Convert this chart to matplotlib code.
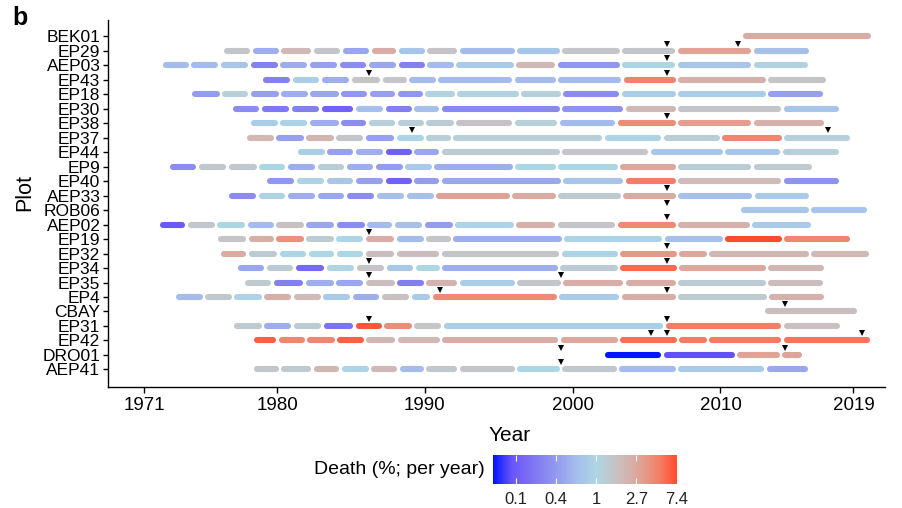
import numpy as np
import matplotlib
matplotlib.use("Agg")
import matplotlib.pyplot as plt
from matplotlib.colors import LinearSegmentedColormap, Normalize
from matplotlib.cm import ScalarMappable

plt.rcParams['font.family'] = ['Liberation Sans', 'DejaVu Sans']

# plots, top to bottom
plot_names = ["BEK01", "EP29", "AEP03", "EP43", "EP18", "EP30", "EP38", "EP37",
              "EP44", "EP9", "EP40", "AEP33", "ROB06", "AEP02", "EP19", "EP32",
              "EP34", "EP35", "EP4", "CBAY", "EP31", "EP42", "DRO01", "AEP41"]

# census years, death rate (% per year) between censuses, and event years (triangles)
census_BEK01 = [2011.4, 2020.3]
death_BEK01 = [2.6]
events_BEK01 = []

census_EP29 = [1976.31, 1978.27, 1980.20, 1982.37, 1984.36, 1986.32, 1988.15, 1990.08, 1992.28,
               1996.17, 1999.21, 2003.27, 2007.03, 2012.14, 2016.09]
death_EP29 = [1.5, 0.5, 2.0, 1.5, 0.45, 2.5, 0.7, 1.6, 0.6, 0.75, 1.5, 1.5, 2.9, 0.65]
events_EP29 = [2006.4, 2011.2]

census_AEP03 = [1972.18, 1974.11, 1976.11, 1978.14, 1980.13, 1982.10, 1984.13, 1986.09, 1988.12,
                1990.08, 1992.04, 1996.10, 1998.88, 2003.27, 2007.03, 2012.14, 2016.03]
death_AEP03 = [0.6, 0.6, 0.7, 0.25, 0.5, 0.4, 0.3, 0.45, 0.25, 0.6, 0.8, 2.0, 0.35, 1.0, 0.7, 1.1]
events_AEP03 = [2006.4]

census_EP43 = [1978.95, 1980.95, 1982.94, 1984.97, 1987.04, 1988.86, 1990.82, 1995.97, 1998.94,
               2003.37, 2007.06, 2013.15, 2017.24]
death_EP43 = [0.25, 0.85, 0.5, 1.6, 1.5, 0.6, 0.6, 0.6, 0.6, 4.5, 2.3, 1.6]
events_EP43 = [1986.2, 2006.4]

census_EP18 = [1974.15, 1976.21, 1978.14, 1980.20, 1982.16, 1984.26, 1986.16, 1988.08, 1989.94,
               1992.11, 1996.44, 1999.28, 2003.21, 2007.06, 2013.15, 2017.04]
death_EP18 = [0.38, 1.2, 0.4, 0.5, 0.45, 0.35, 0.4, 0.35, 1.1, 1.1, 1.15, 0.3, 0.85, 0.85, 0.4]
events_EP18 = []

census_EP30 = [1976.92, 1978.88, 1980.88, 1982.91, 1985.21, 1987.27, 1989.20, 1991.03, 1999.21,
               2003.48, 2007.06, 2014.17, 2018.12]
death_EP30 = [0.3, 0.22, 0.25, 0.15, 0.65, 0.25, 0.65, 0.28, 0.33, 2.0, 1.5, 0.7]
events_EP30 = []

census_EP38 = [1978.14, 1980.13, 1982.13, 1984.26, 1986.12, 1988.08, 1990.01, 1992.04, 1995.97,
               1999.05, 2002.97, 2007.06, 2012.14, 2017.11]
death_EP38 = [0.85, 0.9, 0.5, 0.3, 1.2, 1.25, 1.3, 1.6, 1.2, 0.6, 4.0, 3.2, 2.3]
events_EP38 = [2006.4]

census_EP37 = [1977.87, 1979.86, 1981.89, 1983.92, 1985.89, 1988.02, 1990.01, 1991.84, 2002.06,
               2006.05, 2010.04, 2014.23, 2018.87]
death_EP37 = [2.0, 0.4, 2.2, 1.5, 0.4, 0.95, 1.2, 1.2, 0.95, 1.25, 4.3, 1.15]
events_EP37 = [1989.1, 2017.3]

census_EP44 = [1981.32, 1983.31, 1985.21, 1987.27, 1989.20, 1991.06, 1999.21, 2005.20, 2010.24,
               2014.13, 2018.12]
death_EP44 = [0.85, 0.4, 0.5, 0.15, 0.45, 1.35, 1.5, 0.75, 0.75, 1.2]
events_EP44 = []

census_EP9 = [1972.66, 1974.59, 1976.62, 1978.71, 1980.64, 1982.64, 1984.63, 1986.60, 1988.59,
              1990.55, 1996.03, 1998.94, 2003.14, 2007.06, 2012.14, 2016.30]
death_EP9 = [0.3, 1.45, 1.4, 1.0, 0.5, 1.25, 0.5, 0.38, 0.8, 0.5, 1.0, 1.0, 2.7, 1.25, 1.35]
events_EP9 = []

census_EP40 = [1979.22, 1981.22, 1983.28, 1985.21, 1987.24, 1989.20, 1991.06, 1999.28, 2003.48,
               2007.06, 2014.17, 2018.12]
death_EP40 = [0.35, 0.95, 0.75, 0.4, 0.15, 0.38, 0.45, 0.7, 4.8, 1.9, 0.33]
events_EP40 = []

census_AEP33 = [1976.62, 1978.65, 1980.61, 1982.64, 1984.63, 1986.66, 1988.69, 1990.69, 1995.83,
                1998.94, 2003.34, 2007.06, 2012.24, 2016.09]
death_AEP33 = [0.3, 0.95, 0.5, 0.45, 0.3, 0.65, 0.65, 3.0, 2.6, 1.35, 2.6, 0.65, 0.8]
events_AEP33 = [2006.4]

census_ROB06 = [2011.29, 2016.06, 2020.02]
death_ROB06 = [0.75, 0.7]
events_ROB06 = [2006.4]

census_AEP02 = [1971.95, 1973.88, 1975.87, 1977.94, 1979.86, 1981.89, 1983.96, 1986.02, 1987.85,
                1989.91, 1991.97, 1996.10, 1998.88, 2002.97, 2007.06, 2012.07, 2016.20]
death_AEP02 = [0.13, 1.45, 1.0, 0.6, 1.7, 0.45, 0.3, 0.6, 0.65, 0.38, 0.95, 2.3, 1.5, 4.2, 2.3, 0.8]
events_AEP02 = [2006.4]

census_EP19 = [1975.91, 1977.97, 1979.86, 1981.89, 1983.92, 1985.89, 1988.02, 1990.01, 1991.84,
               1999.35, 2006.12, 2010.24, 2014.23, 2018.87]
death_EP19 = [1.5, 2.4, 3.8, 1.3, 1.0, 2.5, 0.6, 1.5, 0.5, 0.95, 0.65, 7.4, 4.3]
events_EP19 = [1986.2]

census_EP32 = [1976.14, 1977.97, 1980.10, 1982.06, 1983.96, 1985.89, 1988.02, 1991.06, 1999.15,
               2003.14, 2007.13, 2009.16, 2016.06, 2020.15]
death_EP32 = [2.6, 1.3, 0.95, 1.0, 1.0, 1.8, 1.8, 1.5, 0.95, 3.5, 2.7, 2.1, 2.0]
events_EP32 = [2006.4]

census_EP34 = [1977.29, 1979.19, 1981.15, 1983.25, 1985.31, 1987.31, 1989.27, 1991.09, 1999.08,
               2003.14, 2007.13, 2013.15, 2017.11]
death_EP34 = [0.45, 1.3, 0.17, 1.05, 1.6, 0.75, 1.0, 0.5, 1.3, 5.8, 2.7, 2.1]
events_EP34 = [1986.2, 2006.4]

census_EP35 = [1977.73, 1979.69, 1981.83, 1983.92, 1985.89, 1988.05, 1990.01, 1992.28, 1996.17,
               1999.28, 2003.48, 2007.06, 2013.15, 2017.04]
death_EP35 = [1.35, 0.25, 0.5, 0.45, 1.8, 0.24, 2.2, 0.85, 1.5, 2.5, 2.5, 1.3, 1.8]
events_EP35 = [1986.2, 1999.2]

census_EP4 = [1973.06, 1975.06, 1977.02, 1979.05, 1981.05, 1983.04, 1985.04, 1987.00, 1989.03,
              1990.42, 1999.01, 2003.21, 2007.06, 2013.22, 2017.11]
death_EP4 = [0.6, 1.4, 0.95, 2.4, 1.9, 0.8, 0.5, 1.7, 0.8, 4.2, 0.8, 2.5, 1.35, 2.3]
events_EP4 = [1991.0, 2006.4]

census_CBAY = [2012.91, 2019.34]
death_CBAY = [1.8]
events_CBAY = [2014.4]

census_EP31 = [1977.02, 1979.05, 1981.05, 1983.08, 1985.21, 1987.17, 1989.20, 1991.20, 2006.22,
               2014.17, 2018.19]
death_EP31 = [1.35, 0.5, 1.3, 0.2, 6.8, 4.0, 1.55, 0.85, 4.8, 1.7]
events_EP31 = [1986.2, 2006.4]

census_EP42 = [1978.34, 1980.03, 1981.96, 1983.99, 1985.95, 1988.08, 1991.09, 1999.11, 2003.14,
               2007.13, 2009.16, 2014.17, 2020.22]
death_EP42 = [6.3, 4.3, 4.3, 6.2, 2.1, 2.0, 2.5, 2.7, 5.5, 5.0, 5.0, 5.3]
events_EP42 = [2005.3, 2006.4, 2019.6]

census_DRO01 = [2002.06, 2006.05, 2011.05, 2014.10, 2015.62]
death_DRO01 = [0.077, 0.12, 2.9, 2.8]
events_DRO01 = [1999.2, 2014.4]

census_AEP41 = [1978.34, 1980.20, 1982.37, 1984.30, 1986.29, 1988.19, 1990.01, 1992.28, 1996.17,
                1999.21, 2003.07, 2007.06, 2013.05, 2016.03]
death_AEP41 = [1.45, 1.35, 2.1, 0.95, 2.0, 0.6, 1.4, 1.5, 1.0, 1.4, 0.6, 0.8, 0.45]
events_AEP41 = [1999.2]

year_ticks = [1971, 1980, 1990, 2000, 2010, 2019]
cbar_ticks = [-2, -1, 0, 1, 2]          # log(death)
cbar_labels = ["0.1", "0.4", "1", "2.7", "7.4"]

g = globals()
plots = [(n, g["census_" + n], g["death_" + n], g["events_" + n]) for n in plot_names]

# colour scale on log(death): blue -> lightblue -> red
log_lo, log_hi = -2.56, 2.01
stop_pos = [-2.56, -2.1, -1.6, -1.2, -0.9, -0.5, 0.0, 0.4, 0.8, 1.2, 1.6, 2.01]
stop_col = ['#0014ff', '#6955f8', '#7d73f3', '#8c8cf0', '#96a0f0', '#a5bceb', '#add6e5',
            '#c3c6ca', '#d4b4b0', '#e49c8c', '#f57c63', '#ff4b2d']
cmap = LinearSegmentedColormap.from_list(
    "death", [((p - log_lo) / (log_hi - log_lo), c) for p, c in zip(stop_pos, stop_col)])
norm = Normalize(log_lo, log_hi)

fig = plt.figure(figsize=(9.03, 5.08), dpi=100)
ax = fig.add_axes([0.1196, 0.2388, 0.8604, 0.7218])

shrink = 0.3
n = len(plots)
for i, (name, census, death, events) in enumerate(plots):
    y = n - i
    for a, b, d in zip(census[:-1], census[1:], death):
        ax.plot([a + shrink, b - shrink], [y, y], color=cmap(norm(np.log(d))),
                lw=4.4, solid_capstyle='round')
    if events:
        ax.plot(events, [y + 0.5] * len(events), 'v', color='black', ms=4.2, mew=0)

ax.set_xlim(1968.56, 2021.13)
ax.set_ylim(-0.195, 25.13)
ax.set_yticks(range(n, 0, -1))
ax.set_yticklabels(plot_names, fontsize=12.5)
ax.set_xticks(year_ticks)
ax.set_xticklabels([str(t) for t in year_ticks], fontsize=13.5)
for s in ['top', 'right']:
    ax.spines[s].set_visible(False)
for s in ['left', 'bottom']:
    ax.spines[s].set_linewidth(1.0)
ax.tick_params(axis='y', length=3.5, width=1.0, pad=2)
ax.tick_params(axis='x', length=4.5, width=1.0, pad=3)

ax.set_xlabel("Year", fontsize=15)
ax.xaxis.set_label_coords(0.517, -0.108)
ax.set_ylabel("Plot", fontsize=15.5)
ax.yaxis.set_label_coords(-0.093, 0.529)

fig.text(12 / 903, 1 - 18 / 508, "b", fontsize=18, fontweight='bold', ha='left', va='center')

# colour bar
cax = fig.add_axes([493 / 903, 1 - 484 / 508, 184 / 903, 29 / 508])
sm = ScalarMappable(norm=norm, cmap=cmap)
cb = fig.colorbar(sm, cax=cax, orientation='horizontal')
cb.outline.set_visible(False)
cb.set_ticks(cbar_ticks)
cb.set_ticklabels(cbar_labels)
cax.tick_params(axis='x', direction='in', top=True, bottom=True, length=4.5, width=0.8,
                color='white', labelcolor='#222222', labelsize=12, pad=6)
fig.text(485 / 903, 1 - 469 / 508, "Death (%; per year)", fontsize=14, ha='right', va='center')

fig.savefig("out.png", dpi=100)
